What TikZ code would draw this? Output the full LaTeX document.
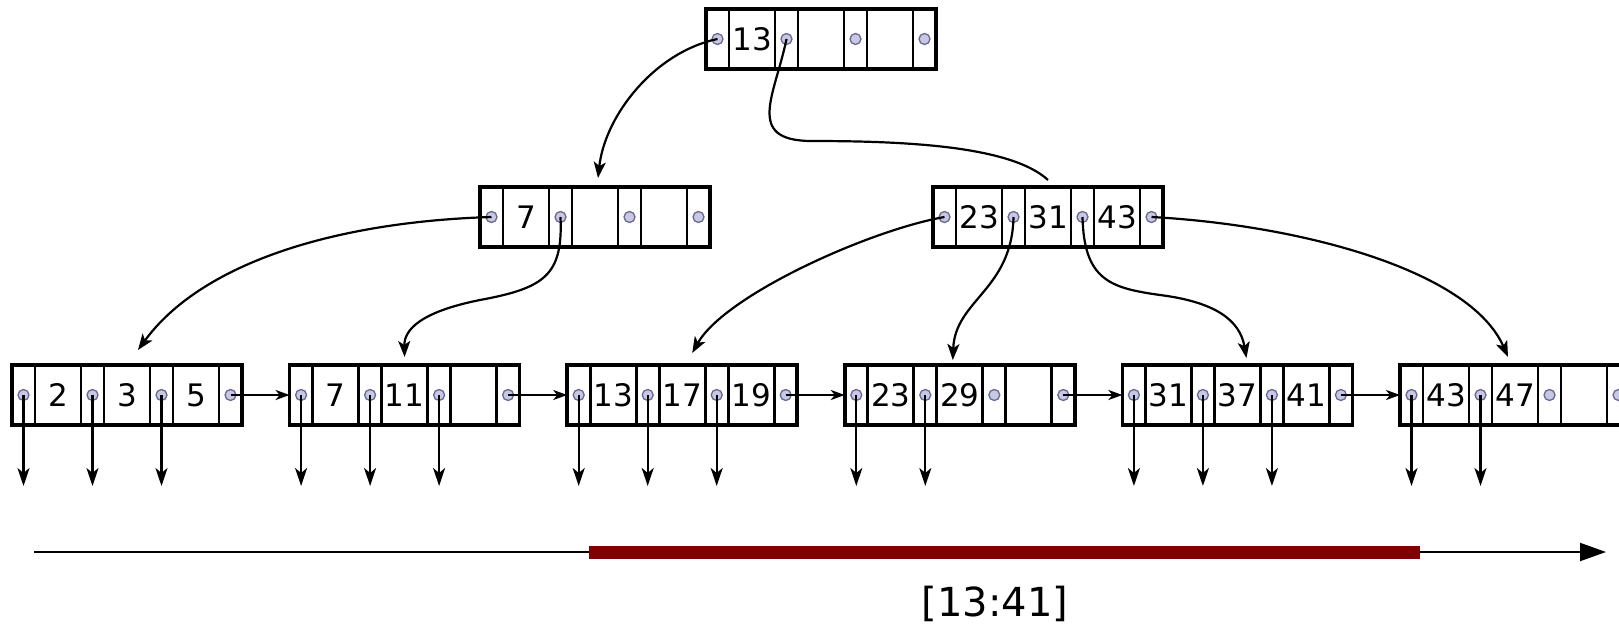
\documentclass[tikz,border=0pt]{standalone}
\usepackage{fontspec}
\setmainfont{DejaVu Sans}
\usetikzlibrary{arrows.meta,calc}
\definecolor{dotfill}{RGB}{200,200,228}
\definecolor{dotline}{RGB}{105,105,145}
\definecolor{barred}{RGB}{128,0,0}
\newcommand{\keyfont}{\fontsize{31}{31}\selectfont}
\newcommand{\labfont}{\fontsize{40}{40}\selectfont}
\tikzset{
  cellst/.style={draw, line width=2.8pt, minimum height=60pt, inner sep=0pt, outer sep=0pt, anchor=north west},
  pcellst/.style={cellst, minimum width=23pt},
  kcellst/.style={cellst, minimum width=46pt, font=\keyfont},
  boxframe/.style={draw, line width=3.6pt, minimum width=230pt, minimum height=60pt, inner sep=0pt, outer sep=0pt, anchor=north west},
  ptrdot/.style={circle, draw=dotline, fill=dotfill, line width=1.3pt, minimum size=11pt, inner sep=0pt},
  conn/.style={line width=2.2pt, -{Stealth[length=16pt,width=12pt,inset=4pt]}},
  plainconn/.style={line width=2.2pt},
  downarr/.style={line width=2.2pt, -{Stealth[length=18pt,width=12pt,inset=5pt]}},
  sibarr/.style={line width=2.2pt, -{Stealth[length=14pt,width=10pt,inset=4pt]}},
  axisline/.style={line width=2pt, -{Triangle[length=26pt,width=18pt]}},
  rangebar/.style={line width=13pt, draw=barred},
}
\newcommand{\btnode}[6]{%
  \node[pcellst] (#1p0) at (#2,#3) {};
  \node[kcellst] (#1k1) at (#1p0.north east) {#4};
  \node[pcellst] (#1p1) at (#1k1.north east) {};
  \node[kcellst] (#1k2) at (#1p1.north east) {#5};
  \node[pcellst] (#1p2) at (#1k2.north east) {};
  \node[kcellst] (#1k3) at (#1p2.north east) {#6};
  \node[pcellst] (#1p3) at (#1k3.north east) {};
  \node[boxframe] (#1) at (#2,#3) {};
  \node[ptrdot] (#1d0) at (#1p0.center) {};
  \node[ptrdot] (#1d1) at (#1p1.center) {};
  \node[ptrdot] (#1d2) at (#1p2.center) {};
  \node[ptrdot] (#1d3) at (#1p3.center) {};
}
\begin{document}
\begin{tikzpicture}[x=1pt,y=-1pt]
\clip (0,0) rectangle (1619,626);
\fill[white] (0,0) rectangle (1619,626);
% tree nodes
\btnode{Rt}{706}{9}{13}{}{}
\btnode{A}{480}{187}{7}{}{}
\btnode{B}{933}{187}{23}{31}{43}
\btnode{La}{12}{365}{2}{3}{5}
\btnode{Lb}{289.6}{365}{7}{11}{}
\btnode{Lc}{567.2}{365}{13}{17}{19}
\btnode{Ld}{844.8}{365}{23}{29}{}
\btnode{Le}{1122.4}{365}{31}{37}{41}
\btnode{Lf}{1400}{365}{43}{47}{}
% root to level 2
\draw[conn] (Rtd0.center) .. controls (655,52) and (605,115) .. ([xshift=3pt,yshift=9pt]A.north);
\draw[plainconn] (Rtd1.center) .. controls (775,95) and (745,140) .. (810,141)
  .. controls (900,141) and (1010,145) .. ([yshift=7pt]B.north);
% level 2 to leaves
\draw[conn] (Ad0.center) .. controls (330,222) and (200,265) .. ([xshift=11pt,yshift=15pt]La.north);
\draw[conn] (Ad1.center) .. controls (563,275) and (545,288) .. (480,300)
  .. controls (420,312) and (404,330) .. ([yshift=8pt]Lb.north);
\draw[conn] (Bd0.center) .. controls (870,230) and (725,295) .. ([xshift=10pt,yshift=12pt]Lc.north);
\draw[conn] (Bd1.center) .. controls (1012,290) and (955,300) .. ([xshift=-7pt,yshift=5pt]Ld.north);
\draw[conn] (Bd2.center) .. controls (1084,280) and (1110,288) .. (1160,295)
  .. controls (1215,302) and (1240,320) .. ([xshift=9pt,yshift=7pt]Le.north);
\draw[conn] (Bd3.center) .. controls (1300,225) and (1470,270) .. ([xshift=-7pt,yshift=8pt]Lf.north);
% sibling links
\draw[sibarr] (Lad3.center) -- (Lb.west);
\draw[sibarr] (Lbd3.center) -- (Lc.west);
\draw[sibarr] (Lcd3.center) -- (Ld.west);
\draw[sibarr] (Ldd3.center) -- (Le.west);
\draw[sibarr] (Led3.center) -- (Lf.west);
% down arrows
\coordinate (bot) at (0,486);
\foreach \n in {Lad0,Lad1,Lad2,Lbd0,Lbd1,Lbd2,Lcd0,Lcd1,Lcd2,Ldd0,Ldd1,Led0,Led1,Led2,Lfd0,Lfd1}{
  \draw[downarr] (\n.center) -- (\n.center |- bot);
}
% key axis
\coordinate (ax0) at (34,552);
\coordinate (ax1) at (1606,552);
\coordinate (r0) at (589,552);
\coordinate (r1) at (1420,552);
\draw[axisline] (ax0) -- (ax1);
\draw[rangebar] (r0) -- (r1);
\node[font=\labfont, inner sep=0pt] (lab) at (995,604) {[13:41]};
\end{tikzpicture}
\end{document}
